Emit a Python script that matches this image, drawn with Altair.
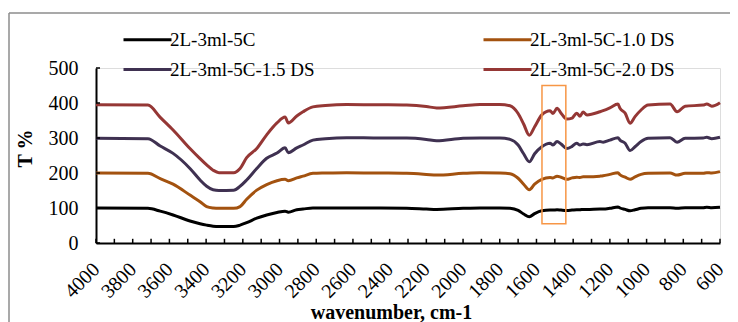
import altair as alt
import pandas as pd

# ---------------- data ----------------
wavenumber = [4000, 3717, 3650, 3580, 3488, 3433, 3397, 3362, 3330, 3250, 3215, 3179, 3124, 3070,
              3014, 2970, 2952, 2906, 2872, 2818, 2750, 2634, 2450, 2307, 2200, 2144, 2000, 1908,
              1800, 1744, 1700, 1670, 1639, 1610, 1571, 1526, 1510, 1488, 1466, 1435, 1406, 1381,
              1363, 1346, 1325, 1254, 1237, 1200, 1156, 1145, 1117, 1090, 1063, 1030, 992, 872,
              834, 790, 692, 672, 645, 600]

t_5c = [100, 99, 91, 80, 63, 55, 51, 48, 47, 47, 51, 58, 71, 80,
        87, 91, 88, 95, 97, 100, 100, 100, 100, 99, 97, 96, 99, 100,
        100, 99, 93, 83, 75, 84, 92, 94, 94, 95, 94, 93, 94, 95,
        95, 96, 96, 97, 97, 99, 103, 100, 96, 92, 95, 99, 101, 101,
        99, 101, 101, 102, 101, 102]

t_10ds = [200, 199, 184, 168, 137, 118, 104, 100, 99, 99, 104, 125, 151, 167,
          178, 182, 178, 186, 191, 199, 200, 201, 200, 199, 196, 194, 199, 201,
          200, 198, 185, 168, 152, 168, 182, 187, 186, 191, 188, 182, 186, 188,
          187, 189, 189, 191, 192, 196, 201, 195, 188, 182, 189, 196, 199, 200,
          194, 199, 199, 201, 200, 204]

t_15ds = [299, 298, 277, 256, 213, 180, 162, 152, 150, 151, 162, 180, 213, 242,
          257, 272, 258, 272, 280, 294, 298, 301, 300, 300, 296, 292, 299, 300,
          300, 296, 280, 255, 232, 255, 275, 285, 280, 290, 283, 270, 276, 285,
          280, 283, 281, 290, 288, 294, 301, 294, 285, 264, 275, 290, 299, 301,
          288, 299, 300, 302, 298, 302]

t_20ds = [395, 394, 359, 323, 270, 241, 223, 208, 201, 201, 213, 244, 270, 309,
          343, 360, 343, 363, 375, 389, 393, 396, 395, 394, 390, 386, 392, 396,
          396, 392, 370, 340, 308, 332, 366, 378, 370, 385, 371, 354, 357, 371,
          362, 374, 366, 375, 378, 386, 397, 385, 371, 342, 361, 380, 394, 397,
          375, 391, 394, 397, 391, 401]

series_names = ["2L-3ml-5C", "2L-3ml-5C-1.0 DS", "2L-3ml-5C-1.5 DS", "2L-3ml-5C-2.0 DS"]
series_colors = ["#000000", "#A3520F", "#3F3151", "#953735"]
# legend is laid out column by column: left column 5C / 1.5 DS, right column 1.0 DS / 2.0 DS
legend_order = [0, 2, 1, 3]

x_labels = list(range(600, 4001, 200))
x_minor = list(range(600, 4001, 100))
y_labels = [0, 100, 200, 300, 400, 500]

box_x = [1570, 1440]
box_y = [55, 450]

# ---------------- tables ----------------
rows = []
for name, vals in zip(series_names, [t_5c, t_10ds, t_15ds, t_20ds]):
    for w, v in zip(wavenumber, vals):
        rows.append({"wn": w, "T": v, "series": name})
df = pd.DataFrame(rows)

xtick_df = pd.DataFrame({"wn": x_minor, "y0": 0, "y1": 12})
ytick_df = pd.DataFrame({"T": y_labels, "x0": 4000, "x1": 3978})
box_df = pd.DataFrame({"x": [box_x[0]], "x2": [box_x[1]], "y": [box_y[0]], "y2": [box_y[1]]})

FONT = "Liberation Serif"
W, H = 624, 175

xscale = alt.Scale(domain=[600, 4000], reverse=True, nice=False, zero=False)
yscale = alt.Scale(domain=[0, 500], nice=False, zero=True)

x_axis = alt.Axis(values=x_labels, format="d", labelAngle=-45, labelAlign="right",
                  labelBaseline="middle", labelPadding=23, ticks=False,
                  labelOverlap=False, labelFlush=False,
                  labelFont=FONT, labelFontSize=20, labelColor="black",
                  domainColor="black", domainWidth=2, grid=False,
                  title="wavenumber, cm-1", titleFont=FONT, titleFontSize=20,
                  titleFontWeight="bold", titleColor="black",
                  titleX=295, titleY=75, titleAlign="center",
                  titleBaseline="alphabetic")
y_axis = alt.Axis(values=y_labels, labelPadding=18, ticks=False,
                  labelOverlap=False, labelFlush=False,
                  labelFont=FONT, labelFontSize=20, labelColor="black",
                  domainColor="black", domainWidth=2, grid=False,
                  title="T %", titleFont=FONT, titleFontSize=20,
                  titleFontWeight="bold", titleColor="black",
                  titleX=-71, titleY=80, titleAlign="center",
                  titleBaseline="middle", titleAngle=270)

lines = alt.Chart(df).mark_line(strokeWidth=3, interpolate="monotone").encode(
    x=alt.X("wn:Q", scale=xscale, axis=x_axis),
    y=alt.Y("T:Q", scale=yscale, axis=y_axis),
    color=alt.Color("series:N",
                    scale=alt.Scale(domain=[series_names[i] for i in legend_order],
                                    range=[series_colors[i] for i in legend_order]),
                    legend=alt.Legend(title=None, orient="none", legendX=35, legendY=-45,
                                      columns=2, columnPadding=162, rowPadding=3,
                                      symbolType="M-1.6,0H1.6", symbolSize=900,
                                      symbolStrokeWidth=3, labelFont=FONT,
                                      labelFontSize=19, labelColor="black",
                                      labelOffset=6, padding=0)),
)

xticks = alt.Chart(xtick_df).mark_rule(color="black", strokeWidth=1.5).encode(
    x=alt.X("wn:Q", scale=xscale, axis=x_axis),
    y=alt.Y("y0:Q", scale=yscale, axis=y_axis), y2="y1:Q")

yticks = alt.Chart(ytick_df).mark_rule(color="black", strokeWidth=1.5).encode(
    y=alt.Y("T:Q", scale=yscale, axis=y_axis),
    x=alt.X("x0:Q", scale=xscale, axis=x_axis), x2="x1:Q")

box = alt.Chart(box_df).mark_rect(fill=None, fillOpacity=0, stroke="#F79646",
                                  strokeWidth=1.5).encode(
    x=alt.X("x:Q", scale=xscale, axis=x_axis), x2="x2:Q",
    y=alt.Y("y:Q", scale=yscale, axis=y_axis), y2="y2:Q")

frame_top = alt.Chart(box_df).mark_rule(color="#8C8C8C", strokeWidth=1.5).encode(
    x=alt.value(-87), x2=alt.value(W + 40), y=alt.value(-55))
frame_left = alt.Chart(box_df).mark_rule(color="#8C8C8C", strokeWidth=1.5).encode(
    x=alt.value(-87), y=alt.value(-55), y2=alt.value(H + 120))

chart = alt.layer(lines, frame_top, frame_left, xticks, yticks, box).properties(
    width=W, height=H,
    padding={"left": 88, "top": 60, "right": 10, "bottom": 79},
    autosize=alt.AutoSizeParams(type="none"),
).configure_view(stroke=None).configure(background="white").configure_axis(
    labelOverlap=False, labelFlush=False)

chart.save("out.html", embed_options={"renderer": "svg", "actions": False})
